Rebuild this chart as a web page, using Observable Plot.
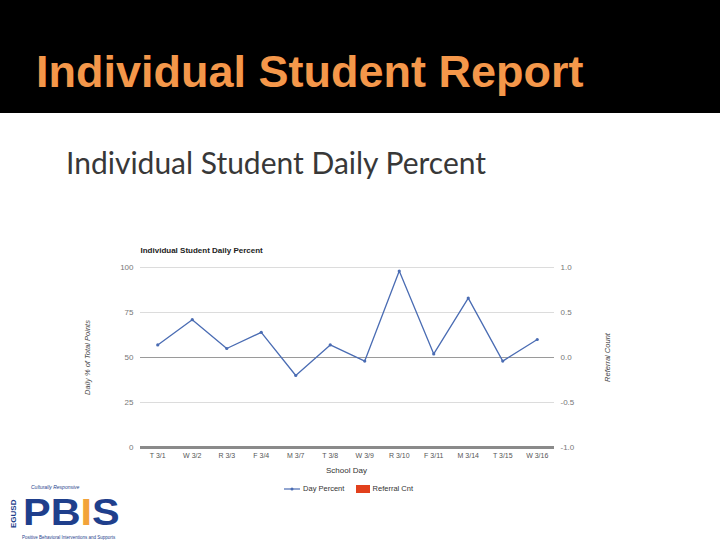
<!DOCTYPE html>
<html><head><meta charset="utf-8">
<script src="https://cdn.jsdelivr.net/npm/d3@7"></script>
<script src="https://cdn.jsdelivr.net/npm/@observablehq/plot@0.6"></script>
<style>
html,body{margin:0;padding:0;background:#fff;}
#page{position:relative;width:720px;height:540px;overflow:hidden;background:#fff;font-family:"Liberation Sans",Arial,sans-serif;}
#band{position:absolute;left:0;top:0;width:720px;height:113px;background:#000;}
#title{position:absolute;left:36px;top:46px;font:bold 45px "Liberation Sans",Arial,sans-serif;color:#f4974a;white-space:nowrap;}
#sub{position:absolute;left:66px;top:144px;font:30px Lato,"Open Sans",sans-serif;color:#383838;white-space:nowrap;}
#chart{position:absolute;left:0;top:230px;}
.lab{position:absolute;font-size:8px;color:#333;white-space:nowrap;line-height:1;}
#logo{position:absolute;left:0;top:480px;width:140px;height:60px;}
#logo div{line-height:1;white-space:nowrap;}
</style></head>
<body><div id="page">
<div id="band"></div>
<div id="title">Individual Student Report</div>
<div id="sub">Individual Student Daily Percent</div>
<div id="chart"></div>
<div class="lab" style="left:326px;top:467px;">School Day</div>
<div class="lab" style="left:284px;top:485px;font-size:7.5px;">
  <svg width="17" height="8" style="vertical-align:middle"><line x1="0" y1="4" x2="16" y2="4" stroke="#4a6cb3" stroke-width="1.2"/><circle cx="8" cy="4" r="1.5" fill="#4a6cb3"/></svg>
  <span style="vertical-align:middle">Day Percent</span>
  <svg width="14" height="8" style="vertical-align:middle;margin-left:10px"><rect width="14" height="8" fill="#e2401c"/></svg>
  <span style="vertical-align:middle">Referral Cnt</span>
</div>
<div id="logo">
  <div style="position:absolute;left:9px;top:48px;transform:rotate(-90deg);transform-origin:left top;font:bold 8px 'Liberation Sans';color:#1f3f8c;">EGUSD</div>
  <div style="position:absolute;left:31px;top:4px;font:italic 5px 'Liberation Sans';color:#1f3f8c;">Culturally Responsive</div>
  <div style="position:absolute;left:23px;top:20px;font:bold 37px 'Liberation Sans';line-height:0.72;color:#1f3f8c;transform:scaleX(1.12);transform-origin:left top;">PB<span style="color:#f2a33a">I</span>S</div>
  <div style="position:absolute;left:22px;top:55px;font:4.5px 'Liberation Sans';color:#1f3f8c;">Positive Behavioral Interventions and Supports</div>
</div>
</div>
<script>
const days = ["T 3/1","W 3/2","R 3/3","F 3/4","M 3/7","T 3/8","W 3/9","R 3/10","F 3/11","M 3/14","T 3/15","W 3/16"];
const dayPercent = [57,71,55,64,40,57,48,98,52,83,48,60];
const referralCnt = [0,0,0,0,0,0,0,0,0,0,0,0];
const leftTicks = [0,25,50,75,100];
const rightTicks = [-1.0,-0.5,0.0,0.5,1.0];

const data = days.map((d,i)=>({day:d, pct:dayPercent[i], ref:referralCnt[i]}));
// right axis maps referral count -1..1 onto the same vertical range as 0..100
const refToY = r => (r + 1) * 50;

const chart = Plot.plot({
  width: 720, height: 235,
  marginLeft: 140, marginRight: 166, marginTop: 37, marginBottom: 18,
  style: {fontFamily: "'Liberation Sans', Arial, sans-serif", background: "transparent"},
  x: {type: "point", domain: days, padding: 0.5, round: false, label: null},
  y: {domain: [0, 100], label: null},
  marks: [
    Plot.ruleY([25, 75, 100], {stroke: "#dcdcdc", strokeWidth: 1}),
    Plot.ruleY([50], {stroke: "#9a9a9a", strokeWidth: 1}),
    Plot.ruleX(data.filter(d => d.ref !== 0), {x: "day", y1: d => refToY(0), y2: d => refToY(d.ref), stroke: "#e2401c", strokeWidth: 16}),
    Plot.ruleY([0], {stroke: "#8a8a8a", strokeWidth: 3}),
    Plot.line(data, {x: "day", y: "pct", stroke: "#4a6cb3", strokeWidth: 1.3}),
    Plot.dot(data, {x: "day", y: "pct", r: 1.6, fill: "#4a6cb3"}),
    Plot.axisY(leftTicks, {anchor: "left", tickSize: 0, tickPadding: 7, fontSize: 8, color: "#777", label: null}),
    Plot.axisY(rightTicks.map(refToY), {anchor: "right", tickSize: 0, tickPadding: 6, fontSize: 8, color: "#777", label: null,
      tickFormat: y => rightTicks[rightTicks.map(refToY).indexOf(y)].toFixed(1)}),
    Plot.axisX(days, {tickSize: 0, tickPadding: 6, fontSize: 7, color: "#555", label: null}),
    Plot.text(["Individual Student Daily Percent"], {frameAnchor: "top-left", dy: -20, fontSize: 8, fontWeight: "bold", fill: "#222", textAnchor: "start"}),
    Plot.text(["Daily % of Total Points"], {frameAnchor: "left", dx: -53, rotate: -90, textAnchor: "middle", fontSize: 7.5, fontStyle: "italic", fill: "#444"}),
    Plot.text(["Referral Count"], {frameAnchor: "right", dx: 53, rotate: -90, textAnchor: "middle", fontSize: 7.5, fontStyle: "italic", fill: "#444"})
  ]
});
document.getElementById("chart").appendChild(chart);
</script>
</body></html>
